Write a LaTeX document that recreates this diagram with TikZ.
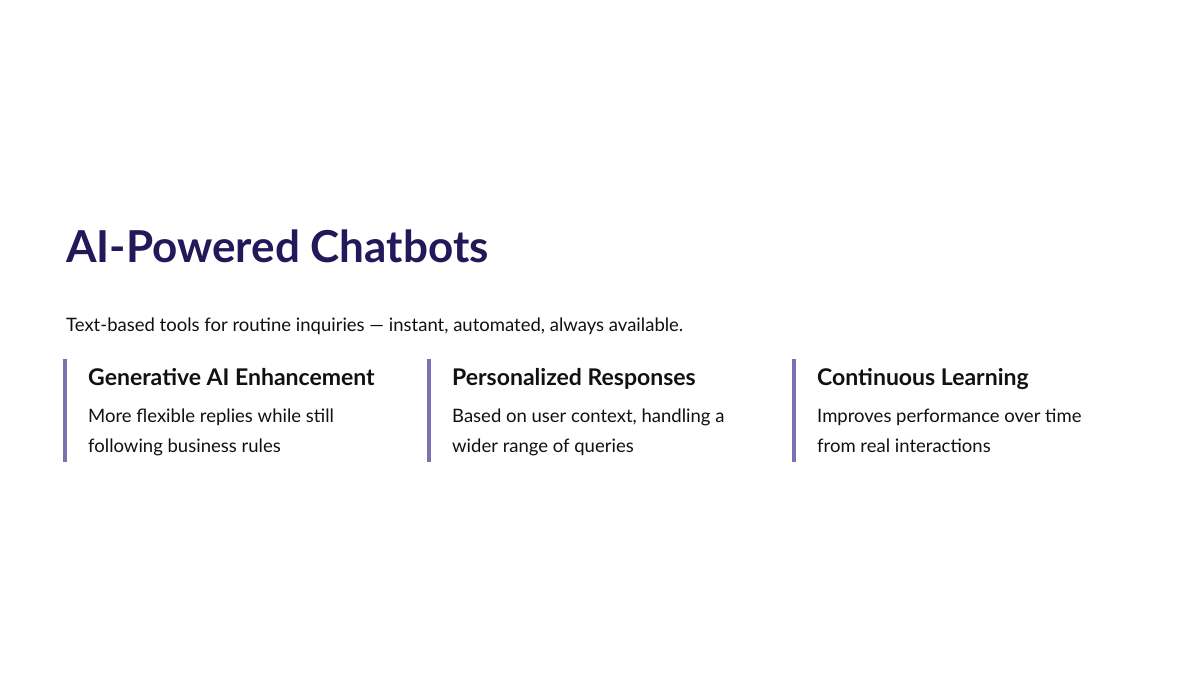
\documentclass[tikz,border=0pt]{standalone}
\usepackage{fontspec}
\setmainfont{Lato}
\definecolor{titlec}{HTML}{22185A}
\definecolor{barc}{HTML}{7D70B0}
\definecolor{textc}{HTML}{111111}
\begin{document}
\begin{tikzpicture}[x=1pt,y=-1pt,
  title/.style={anchor=base west,inner sep=0,font=\fontsize{44}{50}\selectfont\bfseries,text=titlec},
  sub/.style={anchor=base west,inner sep=0,font=\fontsize{18.5}{22}\selectfont,text=textc},
  head/.style={anchor=base west,inner sep=0,font=\fontsize{23}{28}\selectfont\bfseries,text=textc},
  body/.style={anchor=base west,inner sep=0,font=\fontsize{18.5}{30}\selectfont,text=textc,align=left},
  bar/.style={fill=barc,draw=none}]
\useasboundingbox (0,0) rectangle (1200,675);
\fill[white] (0,0) rectangle (1200,675);
\node[title] (t) at (66,262) {AI-Powered Chatbots};
\node[sub] (s) at (66,331) {Text-based tools for routine inquiries — instant, automated, always available.};
\foreach \x/\n/\h/\a/\b in {63/a/Generative AI Enhancement/More flexible replies while still/following business rules,
  427/b/Personalized Responses/{Based on user context, handling a}/wider range of queries,
  792/c/Continuous Learning/Improves performance over time/from real interactions}{
  \fill[bar] (\x,359) rectangle (\x+4,462);
  \node[head] (h\n) at (\x+25,385) {\h};
  \node[body] (p\n) at (\x+25,422) {\a};
  \node[body] (q\n) at (\x+25,452) {\b};
}
\end{tikzpicture}
\end{document}
